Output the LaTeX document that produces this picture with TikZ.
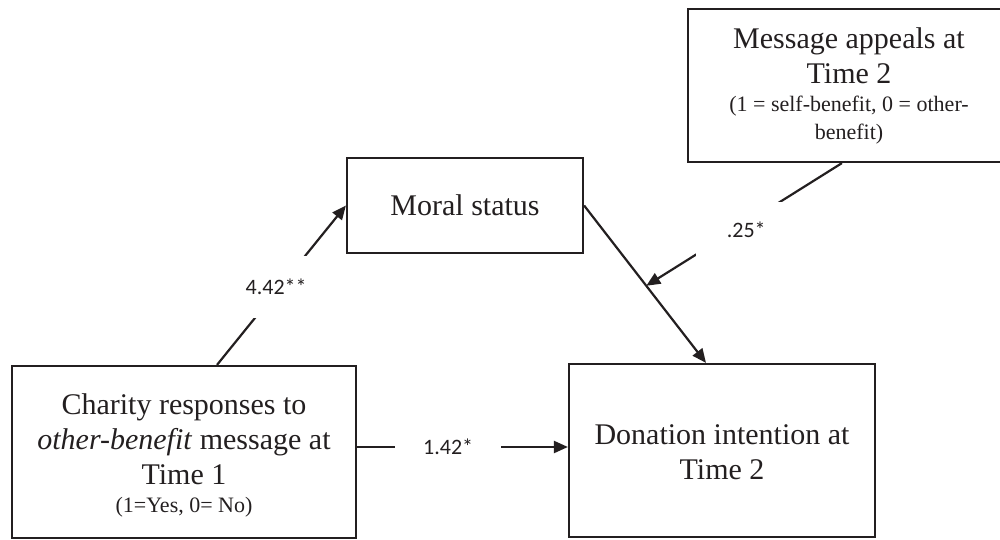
\documentclass[tikz,border=0pt]{standalone}
\usepackage{fontspec}
\setmainfont{Liberation Serif}
\newfontfamily\labelfont{Carlito}
\usetikzlibrary{arrows.meta,calc}
\definecolor{inkc}{HTML}{231F20}
% text sizes for the boxes, with rigid natural word spacing
\newcommand\rigidspaces{\spaceskip=\fontdimen2\font\xspaceskip=\fontdimen2\font\relax}
\newcommand\bigtx{\fontsize{30}{35}\selectfont\rigidspaces}
\newcommand\smalltx{\fontsize{22}{28}\selectfont\rigidspaces}

\begin{document}
\begin{tikzpicture}[x=1pt,y=-1pt,
  ink/.style={draw=inkc, line width=2.2pt},
  varbox/.style={ink, rectangle, inner sep=0pt, align=center, text=inkc},
  link/.style={ink, -{Triangle[length=14pt,width=12pt]}},
  coef/.style={fill=white, inner sep=0pt, text=inkc,
    font=\labelfont\fontsize{22}{26}\selectfont}
]
\clip (0,0) rectangle (1000,540);

% variables
\node[varbox, minimum width=322pt, minimum height=153pt, text width=300pt] (msg) at (849,85.5)
  {{\bigtx Message appeals at\\Time 2\par}%
   {\smalltx (1 = self-benefit, 0 = other-\\benefit)\par}};
\node[varbox, minimum width=236pt, minimum height=95pt, text width=220pt] (moral) at (465,205.5)
  {\bigtx Moral status};
\node[varbox, minimum width=344pt, minimum height=172pt, text width=330pt] (charity) at (184,452)
  {{\bigtx Charity responses to\\\textit{other-benefit} message at\\Time 1\par}%
   {\smalltx (1=Yes, 0= No)\par}\vspace*{-6pt}};
\node[varbox, minimum width=306pt, minimum height=173pt, text width=290pt] (donation) at (722,450.5)
  {\bigtx Donation intention at\\Time 2\par\vspace*{-3pt}};

% paths
\coordinate (c1) at ([xshift=33pt]charity.north);
\draw[link] (c1) -- node[coef, pos=0.49, xshift=-4pt, minimum width=64pt, minimum height=62pt] (k1) {4.42**} (moral.west);

\coordinate (d1) at ([xshift=-16pt]donation.north);
\draw[link] (moral.east) -- coordinate[pos=0.51] (meet) (d1);

\coordinate (m1) at ([xshift=155pt]msg.south west);
\draw[link] (m1) -- node[coef, pos=0.54, xshift=10pt, minimum width=100pt, minimum height=55pt] (k2) {.25*} (meet);

\coordinate (h1) at ([yshift=5pt]charity.east);
\draw[link] (h1) -- node[coef, pos=0.432, minimum width=106pt, minimum height=24pt] (k3) {1.42*} (h1 -| donation.west);
\end{tikzpicture}
\end{document}
